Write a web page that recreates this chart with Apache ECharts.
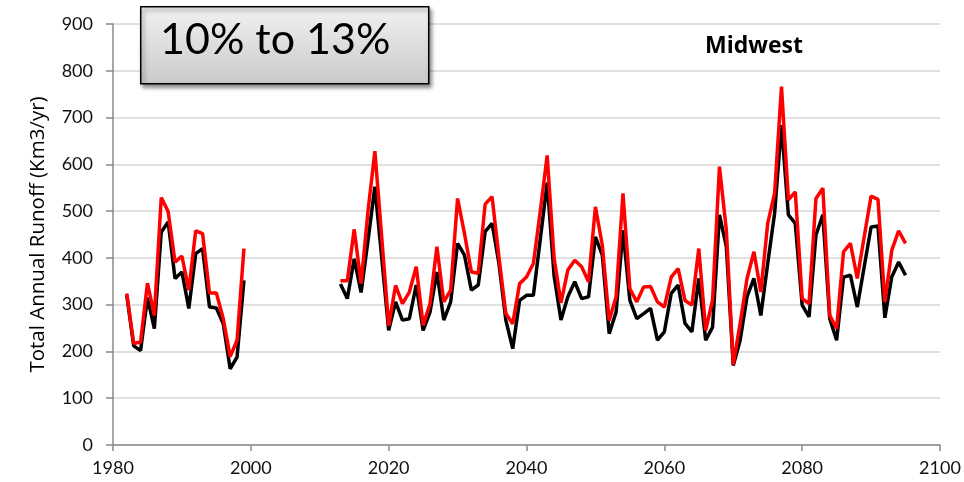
<!DOCTYPE html>
<html>
<head>
<meta charset="utf-8">
<script src="https://cdn.jsdelivr.net/npm/echarts@6/dist/echarts.min.js"></script>
<style>
  html, body { margin: 0; padding: 0; background: #ffffff; }
  #chart { width: 964px; height: 482px; }
</style>
</head>
<body>
<div id="chart"></div>
<script>
// Historical period
const yearsHist = [1982, 1983, 1984, 1985, 1986, 1987, 1988, 1989, 1990, 1991,
                   1992, 1993, 1994, 1995, 1996, 1997, 1998, 1999];
const redHist   = [324, 217, 220, 346, 277, 529, 499, 391, 404, 331,
                   458, 452, 325, 325, 270, 189, 224, 420];
const blackHist = [320, 212, 202, 315, 249, 455, 477, 356, 370, 292,
                   409, 420, 295, 293, 259, 163, 188, 352];

// Projected period
const yearsProj = [2013, 2014, 2015, 2016, 2017, 2018, 2019, 2020, 2021, 2022,
                   2023, 2024, 2025, 2026, 2027, 2028, 2029, 2030, 2031, 2032,
                   2033, 2034, 2035, 2036, 2037, 2038, 2039, 2040, 2041, 2042,
                   2043, 2044, 2045, 2046, 2047, 2048, 2049, 2050, 2051, 2052,
                   2053, 2054, 2055, 2056, 2057, 2058, 2059, 2060, 2061, 2062,
                   2063, 2064, 2065, 2066, 2067, 2068, 2069, 2070, 2071, 2072,
                   2073, 2074, 2075, 2076, 2077, 2078, 2079, 2080, 2081, 2082,
                   2083, 2084, 2085, 2086, 2087, 2088, 2089, 2090, 2091, 2092,
                   2093, 2094, 2095];
const redProj   = [351, 351, 461, 345, 500, 628, 443, 255, 341, 302,
                   327, 381, 256, 302, 424, 306, 331, 527, 452, 370,
                   367, 515, 531, 402, 281, 259, 345, 359, 388, 500,
                   619, 400, 304, 374, 395, 381, 349, 509, 427, 266,
                   317, 538, 334, 306, 338, 339, 306, 295, 359, 377,
                   309, 299, 420, 245, 310, 595, 459, 172, 260, 356,
                   413, 327, 474, 538, 766, 524, 541, 313, 302, 527,
                   549, 277, 249, 413, 431, 356, 445, 532, 525, 306,
                   416, 458, 431];
const blackProj = [344, 313, 398, 326, 437, 552, 399, 245, 306, 267,
                   270, 342, 245, 284, 370, 267, 306, 431, 406, 331,
                   342, 456, 474, 388, 267, 206, 309, 320, 320, 440,
                   561, 362, 267, 317, 349, 313, 317, 445, 406, 238,
                   284, 459, 309, 270, 281, 292, 224, 242, 324, 342,
                   260, 242, 356, 224, 252, 492, 424, 170, 224, 317,
                   356, 277, 388, 495, 684, 492, 474, 299, 274, 449,
                   492, 270, 224, 359, 363, 295, 381, 466, 468, 272,
                   359, 391, 363];

const yTicks = [0, 100, 200, 300, 400, 500, 600, 700, 800, 900];
const xTicks = [1980, 2000, 2020, 2040, 2060, 2080, 2100];

// Join both periods into [year, value] pairs with a break between them
function joinPeriods(y1, v1, y2, v2) {
  const out = y1.map((y, i) => [y, v1[i]]);
  out.push([y1[y1.length - 1] + 1, '-']);
  y2.forEach((y, i) => out.push([y, v2[i]]));
  return out;
}

const chart = echarts.init(document.getElementById('chart'), null, { renderer: 'canvas' });

const labelFont = { fontFamily: 'Lato', fontSize: 18, color: '#111111' };

chart.setOption({
  animation: false,
  backgroundColor: '#ffffff',
  grid: { left: 113, right: 24, top: 24, bottom: 37, containLabel: false },
  xAxis: {
    type: 'value',
    min: xTicks[0],
    max: xTicks[xTicks.length - 1],
    interval: 20,
    axisLine: { show: true, onZero: false, lineStyle: { color: '#8a8a8a', width: 1.5 } },
    axisTick: { show: true, length: 6, lineStyle: { color: '#8a8a8a', width: 1.5 } },
    axisLabel: Object.assign({ margin: 14, formatter: (v) => String(v) }, labelFont),
    splitLine: { show: false }
  },
  yAxis: {
    type: 'value',
    min: yTicks[0],
    max: yTicks[yTicks.length - 1],
    interval: 100,
    name: 'Total Annual Runoff (Km3/yr)',
    nameLocation: 'middle',
    nameGap: 64,
    nameTextStyle: { fontFamily: 'Open Sans', fontSize: 20.5, color: '#000000' },
    axisLine: { show: true, lineStyle: { color: '#8a8a8a', width: 1.5 } },
    axisTick: { show: true, length: 7, lineStyle: { color: '#8a8a8a', width: 1.5 } },
    axisLabel: Object.assign({ margin: 20, formatter: (v) => String(v) }, labelFont),
    splitLine: { show: true, lineStyle: { color: '#d6d6d6', width: 1.5 } }
  },
  series: [
    {
      name: 'black',
      type: 'line',
      data: joinPeriods(yearsHist, blackHist, yearsProj, blackProj),
      showSymbol: false,
      symbol: 'none',
      lineStyle: { color: '#000000', width: 3.5 },
      z: 2
    },
    {
      name: 'red',
      type: 'line',
      data: joinPeriods(yearsHist, redHist, yearsProj, redProj),
      showSymbol: false,
      symbol: 'none',
      lineStyle: { color: '#ff0000', width: 3.5 },
      z: 3
    }
  ],
  graphic: [
    {
      type: 'rect',
      left: 140,
      top: 6,
      z: 10,
      shape: { width: 288, height: 77 },
      style: {
        fill: {
          type: 'linear', x: 0, y: 0, x2: 0, y2: 1,
          colorStops: [
            { offset: 0, color: '#f2f2f2' },
            { offset: 1, color: '#c9c9c9' }
          ]
        },
        stroke: '#000000',
        lineWidth: 1.5,
        shadowBlur: 4,
        shadowOffsetX: 2,
        shadowOffsetY: 3,
        shadowColor: 'rgba(0,0,0,0.45)'
      }
    },
    {
      type: 'text',
      left: 160,
      top: 19,
      z: 11,
      style: {
        text: '10% to 13%',
        fontFamily: 'Lato',
        fontSize: 43,
        fill: '#000000'
      }
    },
    {
      type: 'text',
      left: 705,
      top: 35,
      z: 11,
      style: {
        text: 'Midwest',
        fontFamily: 'Open Sans',
        fontWeight: 'bold',
        fontSize: 23,
        fill: '#000000'
      }
    }
  ]
});
</script>
</body>
</html>
